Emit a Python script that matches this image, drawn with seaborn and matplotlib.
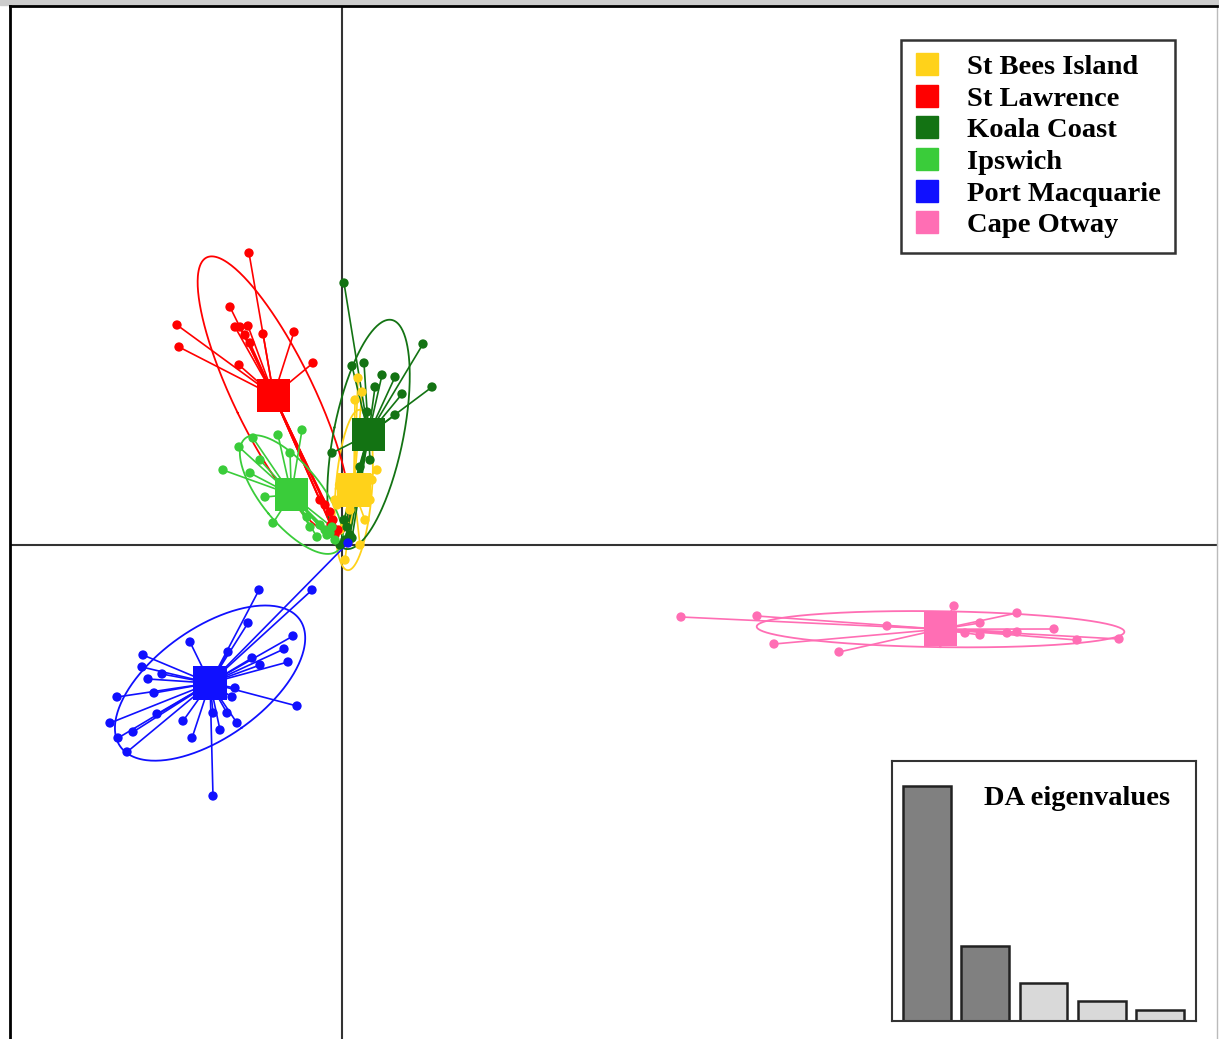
import numpy as np
import pandas as pd
import matplotlib
matplotlib.use("Agg")
import matplotlib.pyplot as plt
import seaborn as sns
from matplotlib.lines import Line2D
from matplotlib.patches import Rectangle
from matplotlib.collections import LineCollection

# Poblaciones y colores
grupos = ["St Bees Island", "St Lawrence", "Koala Coast", "Ipswich", "Port Macquarie", "Cape Otway"]
colores = ["#FFD21A", "#FF0000", "#137313", "#3ACC3A", "#1010FF", "#FF6EB4"]

# Coordenadas LD1 / LD2 de cada individuo
st_bees_x = [0.32, 0.40, 0.26, 0.70, 0.60, 0.56, -0.14, 0.16, 0.06, 0.36, -0.04, 0.46, 0.16, 0.06, -0.10, -0.05]
st_bees_y = [3.34, 3.06, 2.90, 1.50, 1.30, 0.90, 0.90, 0.10, -0.30, 0.00, 0.30, 0.50, 0.70, 0.40, 0.80, 1.20]

st_lawrence_x = [-1.86, -2.24, -3.30, -3.26, -2.14, -2.04, -1.88, -1.58, -0.96, -2.06, -0.58, -1.84, -1.94,
                 -0.34, -0.18, -0.08, -0.44, -0.24, -0.14, -0.22]
st_lawrence_y = [5.84, 4.76, 4.40, 3.96, 4.36, 4.36, 4.38, 4.22, 4.26, 3.60, 3.64, 4.04, 4.20,
                 0.80, 0.50, 0.30, 0.90, 0.66, 0.20, 0.40]

koala_x = [0.04, 1.62, 1.80, 0.20, 0.44, 0.80, 1.06, 0.66, 1.20, 1.06, 0.50, -0.20, 0.36, 0.56,
           0.10, 0.16, 0.06, -0.04, 0.20, 0.04]
koala_y = [5.24, 4.02, 3.16, 3.58, 3.64, 3.40, 3.36, 3.16, 3.02, 2.60, 2.66, 1.84, 1.56, 1.70,
           0.36, 0.20, 0.10, 0.00, 0.14, 0.50]

ipswich_x = [-2.38, -2.06, -1.78, -1.28, -0.80, -1.54, -1.38, -1.84, -0.64, -0.50, -0.24, -1.04, -0.14, -0.34,
             -1.64, -0.70, -0.30, -0.20, -0.44]
ipswich_y = [1.50, 1.96, 2.14, 2.20, 2.30, 0.96, 0.44, 1.44, 0.36, 0.16, 0.24, 1.84, 0.10, 0.30,
             1.70, 0.56, 0.20, 0.36, 0.40]

port_x = [-1.66, -0.60, -1.88, -0.98, -1.16, -1.08, -1.80, -1.64, -3.04, -3.98, -4.00, -3.88, -3.60, -2.28,
          -4.50, -3.76, -2.14, -2.20, -0.90, -4.64, -3.70, -3.18, -2.58, -2.30, -2.10, -4.48, -4.18, -2.44,
          -3.00, -4.30, -2.58, 0.12]
port_y = [-0.90, -0.90, -1.56, -1.82, -2.08, -2.34, -2.26, -2.40, -1.94, -2.20, -2.44, -2.68, -2.58, -2.14,
          -3.04, -2.96, -2.86, -3.04, -3.22, -3.56, -3.38, -3.52, -3.36, -3.36, -3.56, -3.86, -3.74, -3.70,
          -3.86, -4.14, -5.02, 0.04]

otway_x = [6.78, 8.30, 8.64, 9.94, 12.24, 13.50, 12.76, 12.46, 12.76, 13.50, 14.24, 14.70, 15.54, 13.30, 10.90]
otway_y = [-1.44, -1.42, -1.98, -2.14, -1.22, -1.36, -1.56, -1.76, -1.80, -1.74, -1.68, -1.90, -1.88, -1.76, -1.62]

# Valores propios del DA
eigen = [235, 75, 38, 20, 11]
eigen_colores = ["#808080", "#808080", "#D9D9D9", "#D9D9D9", "#D9D9D9"]

xs = [st_bees_x, st_lawrence_x, koala_x, ipswich_x, port_x, otway_x]
ys = [st_bees_y, st_lawrence_y, koala_y, ipswich_y, port_y, otway_y]
df = pd.concat([pd.DataFrame({"LD1": x, "LD2": y, "Poblacion": g}) for g, x, y in zip(grupos, xs, ys)],
               ignore_index=True)
centros = df.groupby("Poblacion", sort=False)[["LD1", "LD2"]].mean().reset_index()
paleta = dict(zip(grupos, colores))


def elipse(x, y, c=1.5, n=300):
    x = np.asarray(x)
    y = np.asarray(y)
    cov = np.cov(x, y, bias=True)
    val, vec = np.linalg.eigh(cov)
    t = np.linspace(0, 2 * np.pi, n)
    circ = np.vstack([np.cos(t), np.sin(t)]) * (c * np.sqrt(val))[:, None]
    pts = vec @ circ
    return x.mean() + pts[0], y.mean() + pts[1]


fig = plt.figure(figsize=(12.19, 10.39), dpi=100, facecolor="white")
ax = fig.add_axes([10 / 1219, 0, 1207 / 1219, 1 - 6 / 1039])
ax.set_xlim(-6.64, 17.5)
ax.set_ylim(-9.88, 10.78)
ax.axhline(0, color="#333333", lw=1.5, zorder=1)
ax.axvline(0, color="#333333", lw=1.5, zorder=1)

# Puntos individuales
sns.scatterplot(data=df, x="LD1", y="LD2", hue="Poblacion", palette=paleta, s=45,
                linewidth=0, legend=False, ax=ax, zorder=3)

# Estrellas y elipses
for g, x, y in zip(grupos, xs, ys):
    cx, cy = np.mean(x), np.mean(y)
    segs = [[(cx, cy), (a, b)] for a, b in zip(x, y)]
    ax.add_collection(LineCollection(segs, colors=paleta[g], linewidths=1.2, zorder=2))
    ex, ey = elipse(x, y)
    ax.plot(ex, ey, color=paleta[g], lw=1.3, zorder=2)

# Centroides
sns.scatterplot(data=centros, x="LD1", y="LD2", hue="Poblacion", palette=paleta, marker="s", s=580,
                linewidth=0, legend=False, ax=ax, zorder=4)

ax.set_xlabel("")
ax.set_ylabel("")
ax.set_xticks([])
ax.set_yticks([])
ax.spines["bottom"].set_visible(False)
ax.spines["left"].set_linewidth(2)
ax.spines["top"].set_linewidth(2)
ax.spines["right"].set_color("#BBBBBB")
ax.spines["right"].set_linewidth(1)

# Leyenda
handles = [Line2D([], [], marker="s", color=c, linestyle="", markersize=16) for c in colores]
leg = ax.legend(handles, grupos, loc="upper right", bbox_to_anchor=(1175 / 1219, 1 - 40 / 1039),
                bbox_transform=fig.transFigure, borderaxespad=0, fancybox=False, framealpha=1,
                prop={"family": "Liberation Serif", "weight": "bold", "size": 20.5},
                handlelength=0.8, handletextpad=1.0, labelspacing=0.2, borderpad=0.5)
leg.get_frame().set_edgecolor("#333333")
leg.get_frame().set_linewidth(1.8)

# Recuadro de valores propios
ins = fig.add_axes([892 / 1219, 18 / 1039, 304 / 1219, 260 / 1039])
sns.barplot(x=list(range(len(eigen))), y=eigen, hue=list(range(len(eigen))), palette=eigen_colores,
            legend=False, edgecolor="#222222", linewidth=1.8, width=0.82, ax=ins)
ins.set_xlim(-0.6, 4.62)
ins.set_ylim(0, 260)
ins.set_xticks([])
ins.set_yticks([])
ins.set_xlabel("")
ins.set_ylabel("")
for s in ins.spines.values():
    s.set_color("#333333")
    s.set_linewidth(1.5)
ins.text(0.915, 0.855, "DA eigenvalues", transform=ins.transAxes, ha="right", va="center",
         family="Liberation Serif", weight="bold", size=20.5)

fig.add_artist(Rectangle((0, 1 - 5 / 1039), 1, 5 / 1039, transform=fig.transFigure,
                         color="#CCCCCC", zorder=0))

fig.savefig("out.png", dpi=100, facecolor="white")
